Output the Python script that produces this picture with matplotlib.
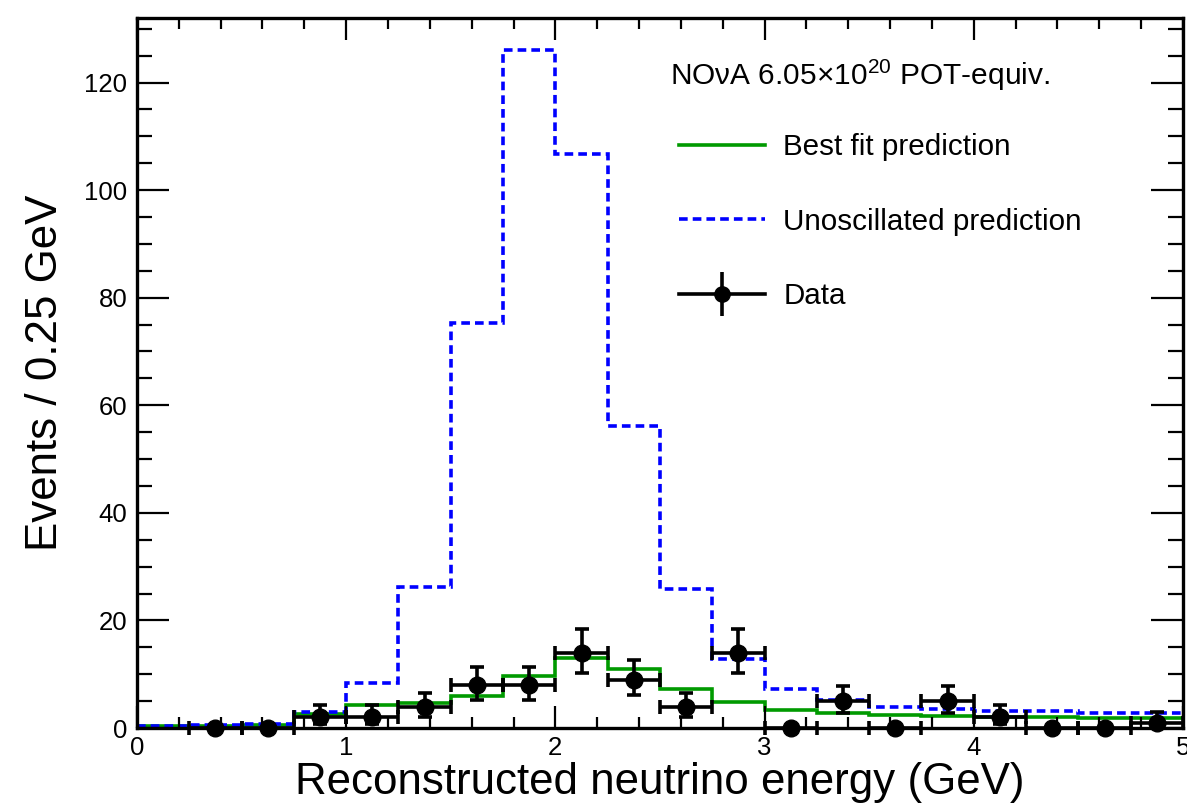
import matplotlib
matplotlib.use("Agg")
from matplotlib import pyplot as plt
from matplotlib.lines import Line2D
from matplotlib.ticker import MultipleLocator
import numpy as np

# 0.25 GeV bins from 0 to 5 GeV
bin_edges = np.arange(0, 5.0001, 0.25)

best_fit = [0.4, 0.4, 0.5, 2.6, 4.2, 4.6, 6.0, 9.7, 13.1, 11.0,
            7.3, 4.8, 3.4, 2.8, 2.4, 2.2, 2.1, 2.1, 1.9, 1.8]
unosc = [0.4, 0.5, 0.7, 3.0, 8.3, 26.2, 75.3, 126.0, 106.8, 56.2,
         25.9, 12.8, 7.2, 5.2, 4.0, 3.5, 3.2, 3.1, 2.7, 2.7]

# data points (first bin empty)
data_x = [0.375, 0.625, 0.875, 1.125, 1.375, 1.625, 1.875, 2.125, 2.375, 2.625,
          2.875, 3.125, 3.375, 3.625, 3.875, 4.125, 4.375, 4.625, 4.875]
data_y = [0, 0, 2, 2, 4, 8, 8, 14, 9, 4,
          14, 0, 5, 0, 5, 2, 0, 0, 1]
err_lo = [0, 0, 1.3, 1.3, 1.9, 2.7, 2.7, 3.7, 2.8, 1.9,
          3.7, 0, 2.3, 0, 2.3, 1.3, 0, 0, 0.8]
err_hi = [0, 0, 2.3, 2.3, 2.6, 3.4, 3.4, 4.4, 3.7, 2.6,
          4.4, 0, 2.9, 0, 2.9, 2.3, 0, 0, 1.9]

plt.rcParams["font.family"] = ["Liberation Sans", "DejaVu Sans"]
plt.rcParams["mathtext.fontset"] = "custom"
plt.rcParams["mathtext.rm"] = "Liberation Sans"
plt.rcParams["mathtext.it"] = "Liberation Sans:italic"

green = "#009a00"
blue = "#0000ff"
dash = (0, (2.4, 1.4))
lw = 2.6

fig = plt.figure(figsize=(11.87, 8.09), dpi=100)
ax = fig.add_axes([0.1154, 0.1001, 0.8812, 0.8777])

ax.stairs(best_fit, bin_edges, color=green, lw=lw, baseline=None)
ax.stairs(unosc, bin_edges, color=blue, lw=lw, ls=dash, baseline=None)
ax.errorbar(data_x, data_y, xerr=0.125, yerr=[err_lo, err_hi], fmt="o",
            color="k", ms=12, elinewidth=lw, capsize=5, capthick=lw,
            clip_on=False, zorder=5)

ax.set_xlim(0, 5)
ax.set_ylim(0, 132)
ax.xaxis.set_major_locator(MultipleLocator(1))
ax.xaxis.set_minor_locator(MultipleLocator(0.2))
ax.yaxis.set_major_locator(MultipleLocator(20))
ax.yaxis.set_minor_locator(MultipleLocator(5))
ax.tick_params(axis="both", which="both", direction="in", top=True, right=True,
               width=1.6, labelsize=18.5)
ax.tick_params(axis="y", which="major", length=23, pad=7)
ax.tick_params(axis="y", which="minor", length=11)
ax.tick_params(axis="x", which="major", length=16, pad=6)
ax.tick_params(axis="x", which="minor", length=8)
for s in ax.spines.values():
    s.set_linewidth(2.4)

ax.set_xlabel("Reconstructed neutrino energy (GeV)", fontsize=31.6, labelpad=1)
ax.set_ylabel("Events / 0.25 GeV", fontsize=31.6, labelpad=13)

fig.text(670 / 1187, 1 - 75 / 809, "NOνA 6.05×10$^{20}$ POT-equiv.",
         fontsize=21.5, va="center", ha="left")

h_fit = Line2D([], [], color=green, lw=lw)
h_unosc = Line2D([], [], color=blue, lw=lw, ls=dash)
h_data = (Line2D([], [], color="k", lw=lw, marker="o", ms=11),
          Line2D([], [], color="k", ls="none", marker="|", ms=32, mew=lw))
ax.legend([h_fit, h_unosc, h_data],
          ["Best fit prediction", "Unoscillated prediction", "Data"],
          loc="upper left", bbox_to_anchor=(679 / 1187, 1 - 133 / 809),
          bbox_transform=fig.transFigure, frameon=False, fontsize=21.3,
          handlelength=2.9, handletextpad=0.62, labelspacing=1.58,
          borderpad=0, borderaxespad=0)

fig.savefig("out.png", dpi=100)
